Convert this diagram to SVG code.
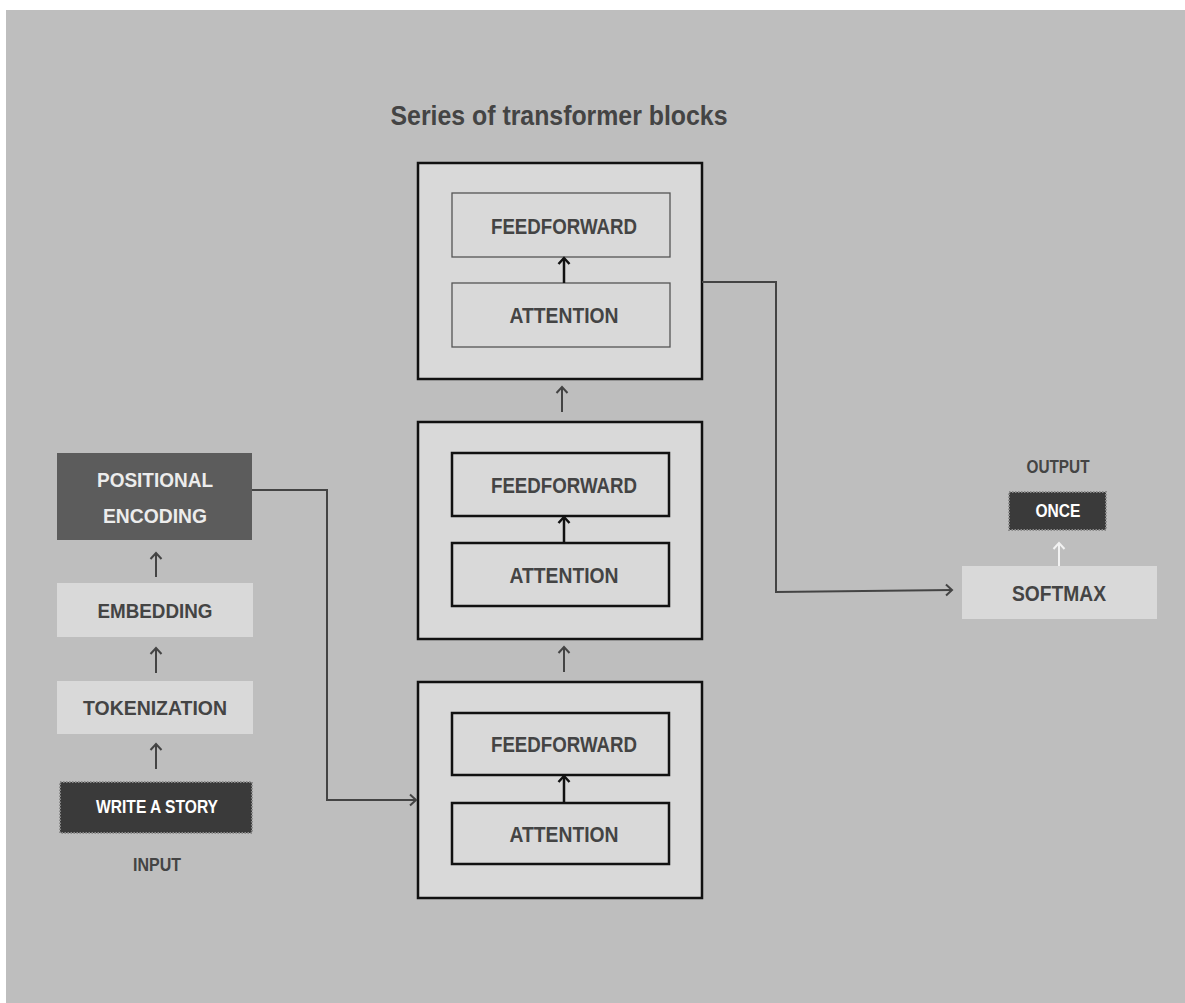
<svg xmlns="http://www.w3.org/2000/svg" width="1185" height="1003" viewBox="0 0 1185 1003">
<style>
.bg{fill:#bebebe}
.lbl{font-family:"Liberation Sans",Arial,sans-serif;font-weight:bold;fill:#444;text-anchor:middle}
.lt{fill:#ececec}
.outer{fill:#d9d9d9;stroke:#111;stroke-width:2.5}
.innerA{fill:#d9d9d9;stroke:#555;stroke-width:1.3}
.innerB{fill:#d9d9d9;stroke:#111;stroke-width:2.5}
.light{fill:#d9d9d9}
.dark{fill:#3a3a3a;stroke:#8a8a8a;stroke-width:2;stroke-dasharray:1.5 1.5}
.pe{fill:#5c5c5c}
.con{fill:none;stroke:#444;stroke-width:2}
.ink{fill:none;stroke:#111;stroke-width:2.5}
.wht{fill:none;stroke:#f2f2f2;stroke-width:2}
</style>
<defs>
<marker id="ag" markerUnits="userSpaceOnUse" markerWidth="14" markerHeight="14" refX="0" refY="0" orient="auto" overflow="visible"><path d="M-6,-5.5 L0,0 L-6,5.5" fill="none" stroke="#444" stroke-width="2"/></marker>
<marker id="ak" markerUnits="userSpaceOnUse" markerWidth="14" markerHeight="14" refX="0" refY="0" orient="auto" overflow="visible"><path d="M-6,-5.5 L0,0 L-6,5.5" fill="none" stroke="#111" stroke-width="2.5"/></marker>
<marker id="aw" markerUnits="userSpaceOnUse" markerWidth="14" markerHeight="14" refX="0" refY="0" orient="auto" overflow="visible"><path d="M-6,-5.5 L0,0 L-6,5.5" fill="none" stroke="#f2f2f2" stroke-width="2"/></marker>
</defs>
<rect class="bg" x="6" y="10" width="1179" height="993"/>
<text class="lbl" x="559" y="125" font-size="27" textLength="337" lengthAdjust="spacingAndGlyphs">Series  of  transformer blocks</text>

<g id="block-top">
<rect class="outer" x="418" y="163" width="284" height="216"/>
<g id="ff-top"><rect class="innerA" x="452" y="193" width="218" height="64"/><text class="lbl" x="564" y="234" font-size="22" textLength="146" lengthAdjust="spacingAndGlyphs">FEEDFORWARD</text></g>
<g id="att-top"><rect class="innerA" x="452" y="283" width="218" height="64"/><text class="lbl" x="564" y="323" font-size="22" textLength="109" lengthAdjust="spacingAndGlyphs">ATTENTION</text></g>
</g>
<g id="block-mid">
<rect class="outer" x="418" y="422" width="284" height="217"/>
<g id="ff-mid"><rect class="innerB" x="452" y="453" width="217" height="63"/><text class="lbl" x="564" y="493" font-size="22" textLength="146" lengthAdjust="spacingAndGlyphs">FEEDFORWARD</text></g>
<g id="att-mid"><rect class="innerB" x="452" y="543" width="217" height="63"/><text class="lbl" x="564" y="583" font-size="22" textLength="109" lengthAdjust="spacingAndGlyphs">ATTENTION</text></g>
</g>
<g id="block-bot">
<rect class="outer" x="418" y="682" width="284" height="216"/>
<g id="ff-bot"><rect class="innerB" x="452" y="713" width="217" height="62"/><text class="lbl" x="564" y="752" font-size="22" textLength="146" lengthAdjust="spacingAndGlyphs">FEEDFORWARD</text></g>
<g id="att-bot"><rect class="innerB" x="452" y="803" width="217" height="61"/><text class="lbl" x="564" y="842" font-size="22" textLength="109" lengthAdjust="spacingAndGlyphs">ATTENTION</text></g>
</g>

<g id="positional-encoding">
<rect class="pe" x="57" y="453" width="195" height="87"/>
<text class="lbl lt" x="155" y="487" font-size="21" textLength="116" lengthAdjust="spacingAndGlyphs">POSITIONAL</text>
<text class="lbl lt" x="155" y="523" font-size="21" textLength="104" lengthAdjust="spacingAndGlyphs">ENCODING</text>
</g>
<g id="embedding">
<rect class="light" x="57" y="583" width="196" height="54"/>
<text class="lbl" x="155" y="618" font-size="21" textLength="115" lengthAdjust="spacingAndGlyphs">EMBEDDING</text>
</g>
<g id="tokenization">
<rect class="light" x="57" y="681" width="196" height="53"/>
<text class="lbl" x="155" y="715" font-size="21" textLength="144" lengthAdjust="spacingAndGlyphs">TOKENIZATION</text>
</g>
<g id="input">
<rect class="dark" x="60" y="782" width="192" height="51"/>
<text class="lbl" x="157" y="813" font-size="19" style="fill:#ffffff" textLength="122" lengthAdjust="spacingAndGlyphs">WRITE A STORY</text>
<text class="lbl" x="157" y="871" font-size="18" textLength="48" lengthAdjust="spacingAndGlyphs">INPUT</text>
</g>
<g id="softmax">
<rect class="light" x="962" y="566" width="195" height="53"/>
<text class="lbl" x="1059" y="601" font-size="22" textLength="94" lengthAdjust="spacingAndGlyphs">SOFTMAX</text>
</g>
<g id="output">
<text class="lbl" x="1058" y="473" font-size="18" textLength="63" lengthAdjust="spacingAndGlyphs">OUTPUT</text>
<rect class="dark" x="1009" y="492" width="97" height="38"/>
<text class="lbl" x="1058" y="517" font-size="19" style="fill:#ffffff" textLength="45" lengthAdjust="spacingAndGlyphs">ONCE</text>
</g>

<g id="connectors">
<line class="ink" x1="564" y1="283" x2="564" y2="258" marker-end="url(#ak)"/>
<line class="ink" x1="564" y1="543" x2="564" y2="517" marker-end="url(#ak)"/>
<line class="ink" x1="564" y1="803" x2="564" y2="776" marker-end="url(#ak)"/>
<line class="con" x1="562" y1="412" x2="562" y2="387" marker-end="url(#ag)"/>
<line class="con" x1="564" y1="672" x2="564" y2="647" marker-end="url(#ag)"/>
<line class="con" x1="156" y1="577" x2="156" y2="553" marker-end="url(#ag)"/>
<line class="con" x1="156" y1="673" x2="156" y2="648" marker-end="url(#ag)"/>
<line class="con" x1="156" y1="769" x2="156" y2="744" marker-end="url(#ag)"/>
<polyline class="con" points="252,490 327,490 327,800 416,800" marker-end="url(#ag)"/>
<polyline class="con" points="702,282 776,282 776,592 952,590" marker-end="url(#ag)"/>
<line class="wht" x1="1059" y1="566" x2="1059" y2="543" marker-end="url(#aw)"/>
</g>
</svg>
